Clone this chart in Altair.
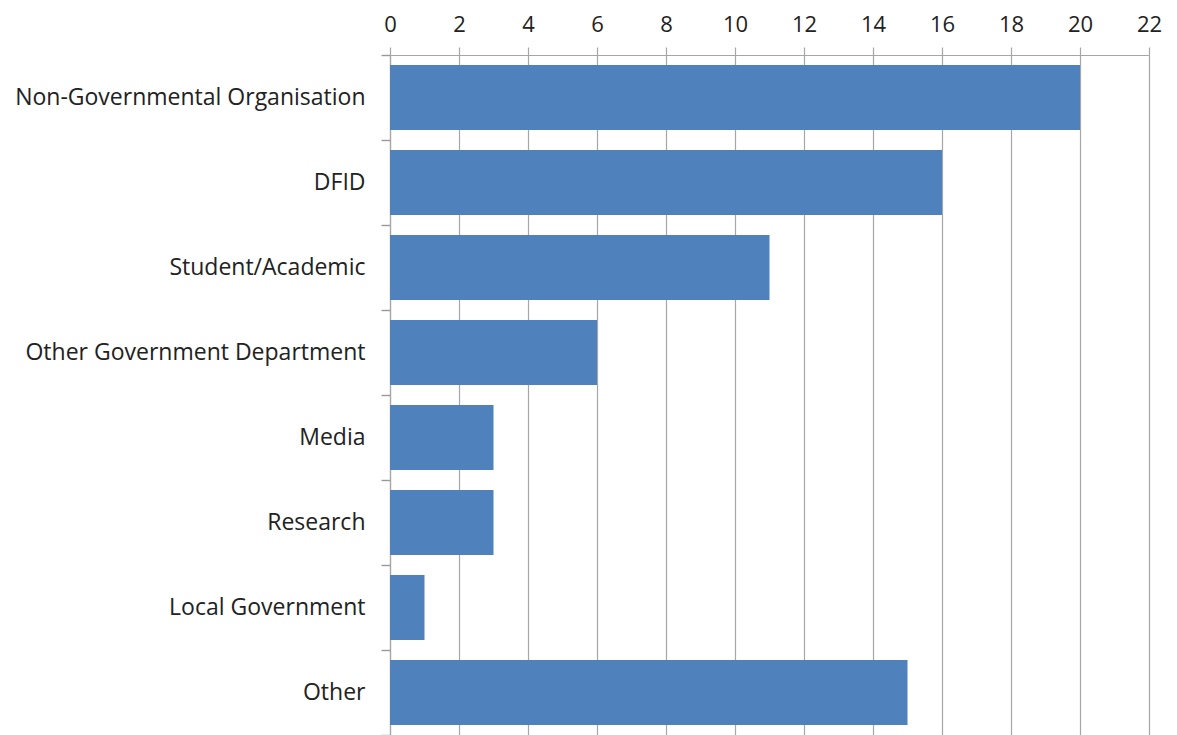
import altair as alt
import pandas as pd

categories = ["Non-Governmental Organisation", "DFID", "Student/Academic",
              "Other Government Department", "Media", "Research",
              "Local Government", "Other"]
values = [20, 16, 11, 6, 3, 3, 1, 15]
x_ticks = list(range(0, 23, 2))

df = pd.DataFrame({"category": categories, "value": values})

chart = alt.Chart(df).mark_bar(
    color="#4F81BD", height=alt.RelativeBandSize(band=0.765)
).encode(
    x=alt.X("value:Q",
            scale=alt.Scale(domain=[0, 22], nice=False),
            axis=alt.Axis(orient="top", values=x_ticks, title=None,
                          grid=True, gridColor="#A6A6A6", gridWidth=1.2,
                          domainColor="#A6A6A6", domainWidth=1.2,
                          tickColor="#A6A6A6", tickSize=8, tickWidth=1.2,
                          labelFlush=False, labelOverlap=False,
                          labelFont="Open Sans", labelFontSize=22,
                          labelColor="#222222", labelPadding=11)),
    y=alt.Y("category:N", sort=categories,
            scale=alt.Scale(paddingInner=0, paddingOuter=0),
            axis=alt.Axis(title=None, tickBand="extent", labelLimit=0,
                          domainColor="#A6A6A6", domainWidth=1.2,
                          tickColor="#999999", tickSize=9, tickWidth=1.4,
                          labelFont="Open Sans", labelFontSize=23,
                          labelColor="#222222", labelPadding=16)),
).properties(
    width=759, height=680,
    padding={"left": 382, "top": 47, "right": 20, "bottom": 0},
    autosize=alt.AutoSizeParams(type="none"),
).configure_view(stroke=None)

chart.save("out.html", embed_options={"renderer": "svg", "actions": False})
